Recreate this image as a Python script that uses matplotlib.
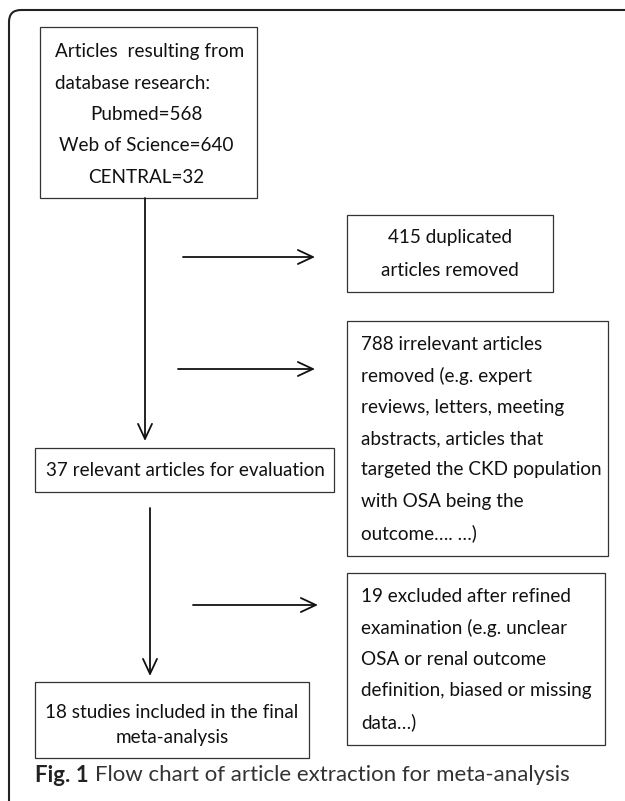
import matplotlib.pyplot as plt
from matplotlib.patches import Rectangle, FancyArrowPatch, PathPatch
from matplotlib.path import Path

plt.rcParams['font.family'] = ['Lato', 'DejaVu Sans']

# box texts, one list of lines per box
box_lines = [
    ["Articles  resulting from", "database research:", "Pubmed=568",
     "Web of Science=640", "CENTRAL=32"],
    ["415 duplicated", "articles removed"],
    ["788 irrelevant articles", "removed (e.g. expert", "reviews, letters, meeting",
     "abstracts, articles that", "targeted the CKD population",
     "with OSA being the", "outcome…. …)"],
    ["37 relevant articles for evaluation"],
    ["18 studies included in the final", "meta-analysis"],
    ["19 excluded after refined", "examination (e.g. unclear",
     "OSA or renal outcome", "definition, biased or missing", "data…)"],
]
caption_bold = "Fig. 1"
caption_text = "Flow chart of article extraction for meta-analysis"

# layout in pixels: x0, y0, x1, y1, text x, first line y, line gap, align
boxes = [
    (40, 27, 257, 198, 146, 52, 31.3, "center"),
    (347, 215, 553, 292, 450, 238, 32, "center"),
    (347, 321, 608, 556, 361, 344, 31.5, "left"),
    (35, 448, 334, 492, 46, 471, 0, "left"),
    (35, 682, 309, 758, 172, 712, 25, "center"),
    (347, 573, 605, 745, 361, 597, 31.3, "left"),
]
arrows = [
    ((145, 198), (145, 441)),
    ((183, 257), (315, 257)),
    ((178, 369), (315, 369)),
    ((150, 508), (150, 676)),
    ((193, 605), (318, 605)),
]

fig = plt.figure(figsize=(6.25, 8.01), dpi=100)
ax = fig.add_axes([0, 0, 1, 1])
ax.set_xlim(0, 625)
ax.set_ylim(801, 0)
ax.axis("off")

# outer frame (top and left side with rounded corner)
verts = [(9, 805), (9, 22), (9, 10), (21, 10), (630, 10)]
codes = [Path.MOVETO, Path.LINETO, Path.CURVE3, Path.CURVE3, Path.LINETO]
ax.add_patch(PathPatch(Path(verts, codes), fill=False, lw=1.5, ec="#222222"))

for (x0, y0, x1, y1, tx, ty, gap, align), lines in zip(boxes, box_lines):
    ax.add_patch(Rectangle((x0, y0), x1 - x0, y1 - y0, fill=False,
                           lw=0.9, ec="#333333"))
    for i, line in enumerate(lines):
        ha = align
        x = tx
        # first two lines of the top box are left aligned
        if lines is box_lines[0] and i < 2:
            ha, x = "left", 55
        ax.text(x, ty + i * gap, line, ha=ha, va="center",
                fontsize=13.6, color="#111111")

for start, end in arrows:
    ax.add_patch(FancyArrowPatch(start, end,
                                 arrowstyle="->,head_length=0.9,head_width=0.42",
                                 mutation_scale=12, lw=1.3, color="#111111",
                                 shrinkA=0, shrinkB=0))

t = ax.text(35, 775, caption_bold, ha="left", va="center", fontsize=16,
            fontweight="bold", color="#222222")
fig.canvas.draw()
bb = t.get_window_extent().transformed(ax.transData.inverted())
ax.text(bb.x1 + 6, 775, caption_text, ha="left", va="center", fontsize=16,
        color="#333333")

fig.savefig("out.png", dpi=100)
